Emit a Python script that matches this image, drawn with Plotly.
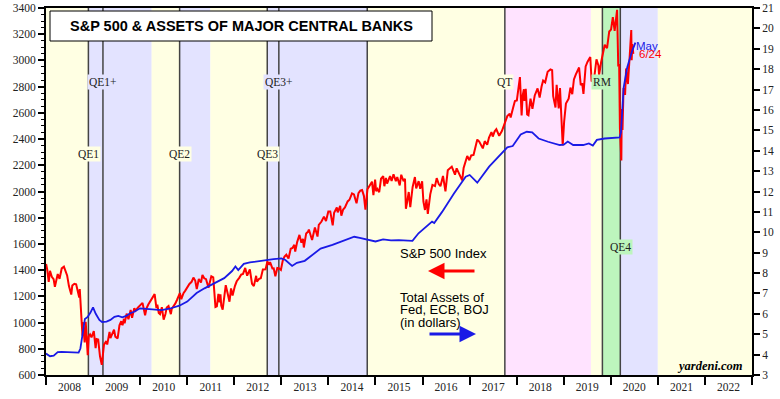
import plotly.graph_objects as go

# ---------------- data ----------------
sp_dates = [
"2008-01-02","2008-01-11","2008-01-22","2008-02-01","2008-02-15","2008-02-29","2008-03-10","2008-03-20",
"2008-04-01","2008-04-15","2008-05-02","2008-05-19","2008-06-02","2008-06-13","2008-06-27","2008-07-15",
"2008-07-23","2008-08-08","2008-08-22","2008-09-05","2008-09-15","2008-09-19","2008-09-29","2008-10-10",
"2008-10-13","2008-10-27","2008-11-04","2008-11-20","2008-11-28","2008-12-08","2008-12-19","2009-01-06",
"2009-01-20","2009-01-28","2009-02-09","2009-02-23","2009-03-09","2009-03-26","2009-04-13","2009-04-20",
"2009-05-08","2009-05-15","2009-06-12","2009-06-22","2009-07-10","2009-07-24","2009-08-07","2009-08-17",
"2009-08-28","2009-09-02","2009-09-18","2009-10-02","2009-10-19","2009-10-30","2009-11-16","2009-11-27",
"2009-12-14","2009-12-28","2010-01-19","2010-02-08","2010-02-19","2010-03-05","2010-03-19","2010-04-05",
"2010-04-23","2010-05-07","2010-05-14","2010-05-25","2010-06-04","2010-06-18","2010-07-02","2010-07-16",
"2010-07-26","2010-08-09","2010-08-27","2010-09-03","2010-09-17","2010-10-01","2010-10-15","2010-11-05",
"2010-11-16","2010-12-03","2010-12-17","2011-01-03","2011-01-18","2011-02-04","2011-02-18","2011-03-04",
"2011-03-16","2011-04-01","2011-04-18","2011-04-29","2011-05-13","2011-05-27","2011-06-15","2011-07-07",
"2011-07-22","2011-08-08","2011-08-19","2011-08-31","2011-09-09","2011-09-16","2011-09-22","2011-10-03",
"2011-10-27","2011-11-09","2011-11-25","2011-12-07","2011-12-19","2012-01-06","2012-01-20","2012-02-10",
"2012-02-24","2012-03-09","2012-03-26","2012-04-10","2012-04-20","2012-05-01","2012-05-18","2012-06-01",
"2012-06-19","2012-06-25","2012-07-12","2012-07-25","2012-08-10","2012-08-31","2012-09-14","2012-09-28",
"2012-10-05","2012-10-23","2012-11-02","2012-11-15","2012-11-30","2012-12-14","2012-12-28","2013-01-11",
"2013-01-25","2013-02-08","2013-02-25","2013-03-14","2013-03-28","2013-04-11","2013-04-18","2013-05-03",
"2013-05-21","2013-06-05","2013-06-17","2013-06-24","2013-07-12","2013-07-26","2013-08-02","2013-08-16",
"2013-08-27","2013-09-18","2013-10-08","2013-10-18","2013-11-08","2013-11-27","2013-12-13","2013-12-31",
"2014-01-15","2014-02-03","2014-02-14","2014-03-07","2014-03-14","2014-04-02","2014-04-11","2014-04-25",
"2014-05-09","2014-05-30","2014-06-13","2014-07-03","2014-07-18","2014-08-07","2014-08-22","2014-09-05",
"2014-09-19","2014-10-03","2014-10-15","2014-10-31","2014-11-14","2014-12-05","2014-12-16","2014-12-29",
"2015-01-06","2015-01-16","2015-01-30","2015-02-13","2015-03-02","2015-03-11","2015-03-23","2015-04-01",
"2015-04-24","2015-05-06","2015-05-21","2015-06-08","2015-06-19","2015-07-08","2015-07-20","2015-08-07",
"2015-08-18","2015-08-25","2015-09-04","2015-09-16","2015-09-28","2015-10-16","2015-11-03","2015-11-13",
"2015-12-02","2015-12-14","2015-12-29","2016-01-08","2016-01-20","2016-02-01","2016-02-11","2016-03-01",
"2016-03-18","2016-04-07","2016-04-20","2016-05-06","2016-05-19","2016-06-08","2016-06-27","2016-07-15",
"2016-08-15","2016-09-09","2016-09-22","2016-10-14","2016-11-04","2016-11-15","2016-12-13","2016-12-30",
"2017-01-13","2017-01-31","2017-02-15","2017-03-01","2017-03-16","2017-04-13","2017-04-28","2017-05-17",
"2017-05-31","2017-06-19","2017-06-29","2017-07-14","2017-07-27","2017-08-10","2017-08-18","2017-09-08",
"2017-09-22","2017-10-06","2017-10-20","2017-11-08","2017-11-15","2017-12-04","2017-12-18","2018-01-02",
"2018-01-12","2018-01-26","2018-02-08","2018-02-16","2018-02-26","2018-03-02","2018-03-12","2018-03-23",
"2018-04-02","2018-04-18","2018-05-03","2018-05-21","2018-06-12","2018-06-28","2018-07-13","2018-07-25",
"2018-08-10","2018-08-29","2018-09-20","2018-10-03","2018-10-11","2018-10-29","2018-11-07","2018-11-23",
"2018-12-03","2018-12-14","2018-12-24","2019-01-04","2019-01-18","2019-02-08","2019-02-22","2019-03-08",
"2019-03-21","2019-04-05","2019-04-30","2019-05-13","2019-05-24","2019-06-03","2019-06-20","2019-07-05",
"2019-07-26","2019-08-05","2019-08-14","2019-08-23","2019-09-12","2019-09-27","2019-10-02","2019-10-18",
"2019-11-01","2019-11-15","2019-12-03","2019-12-20","2020-01-03","2020-01-17","2020-01-31","2020-02-19",
"2020-02-28","2020-03-06","2020-03-12","2020-03-16","2020-03-23","2020-03-26","2020-04-01","2020-04-09",
"2020-04-21","2020-04-29","2020-05-13","2020-05-27","2020-06-08","2020-06-11","2020-06-16","2020-06-24",
]
sp_values = [
1447,1401,1310,1395,1349,1331,1273,1330,
1370,1334,1413,1426,1385,1360,1278,1214,
1282,1296,1292,1242,1192,1255,1106,899,
1003,848,1005,752,896,909,887,935,
805,874,870,743,677,832,858,832,
929,882,946,893,879,979,1010,980,
1029,995,1068,1025,1097,1036,1110,1091,
1114,1127,1150,1056,1109,1138,1160,1187,
1217,1111,1136,1074,1065,1117,1022,1065,
1115,1127,1064,1105,1125,1146,1176,1225,
1178,1224,1244,1272,1295,1311,1343,1321,
1256,1332,1305,1364,1338,1331,1265,1353,
1345,1119,1124,1219,1154,1216,1129,1099,
1285,1229,1159,1261,1206,1278,1315,1343,
1366,1371,1417,1358,1378,1405,1295,1278,
1357,1313,1334,1338,1405,1406,1466,1441,
1461,1413,1414,1353,1416,1413,1402,1472,
1503,1518,1488,1563,1569,1593,1541,1614,
1669,1609,1639,1573,1680,1692,1710,1656,
1630,1725,1656,1745,1771,1808,1775,1848,
1848,1742,1838,1878,1841,1890,1816,1863,
1878,1924,1937,1985,1978,1910,1988,2007,
2011,1967,1862,2018,2039,2075,1972,2091,
2003,2019,1995,2097,2117,2040,2104,2060,
2117,2080,2131,2079,2110,2046,2128,2078,
2097,1868,1921,1996,1881,2033,2110,2023,
2079,2021,2078,1922,1859,1940,1829,1978,
2050,2041,2102,2057,2040,2119,2001,2162,
2190,2128,2177,2133,2085,2180,2271,2239,
2275,2279,2349,2396,2381,2329,2384,2357,
2412,2453,2419,2459,2475,2438,2425,2461,
2502,2549,2575,2594,2565,2639,2690,2695,
2786,2873,2581,2732,2780,2691,2783,2588,
2582,2708,2630,2733,2787,2716,2801,2846,
2833,2914,2931,2926,2728,2641,2814,2633,
2790,2600,2351,2532,2671,2708,2793,2743,
2855,2893,2946,2812,2826,2744,2954,2990,
3026,2844,2840,2847,3009,2962,2887,2986,
3067,3120,3093,3221,3235,3330,3226,3386,
2954,2972,2481,2386,2237,2630,2470,2790,
2737,2939,2820,3036,3232,3002,3125,3050,
]

asset_dates = [
"2008-01-01","2008-02-01","2008-03-01","2008-04-01","2008-05-01","2008-06-01","2008-07-01","2008-08-01",
"2008-09-10","2008-09-24","2008-10-08","2008-10-29","2008-11-19","2008-12-10","2008-12-31","2009-01-21",
"2009-02-18","2009-03-11","2009-04-15","2009-05-15","2009-06-15","2009-07-15","2009-08-15","2009-09-15",
"2009-10-15","2009-11-15","2009-12-31","2010-02-01","2010-03-15","2010-05-01","2010-06-15","2010-08-15",
"2010-11-01","2011-01-01","2011-03-15","2011-05-15","2011-07-01","2011-08-20","2011-10-15","2011-12-15",
"2012-01-10","2012-02-01","2012-03-15","2012-05-01","2012-07-01","2012-09-01","2012-11-01","2013-01-01",
"2013-02-01","2013-03-25","2013-05-01","2013-07-01","2013-09-01","2013-11-01","2014-02-01","2014-05-01",
"2014-07-20","2014-09-01","2014-11-01","2015-01-01","2015-03-01","2015-05-01","2015-07-01","2015-09-01",
"2015-10-15","2015-12-01","2016-01-01","2016-03-15","2016-04-01","2016-06-01","2016-09-01","2016-12-01",
"2017-01-01","2017-03-01","2017-06-01","2017-09-01","2017-10-20","2017-12-01","2018-02-01","2018-03-20",
"2018-05-01","2018-06-20","2018-09-01","2018-12-01","2019-01-01","2019-02-01","2019-03-15","2019-06-01",
"2019-07-15","2019-08-15","2019-09-15","2019-11-15","2020-02-01","2020-03-10","2020-03-20","2020-04-10",
"2020-05-08","2020-06-15","2020-07-10",
]
asset_values = [
4.05,3.92,3.95,4.12,4.13,4.12,4.14,4.12,
4.10,4.30,4.80,5.75,5.85,6.05,6.32,6.00,
5.70,5.60,5.62,5.70,5.85,5.90,5.83,5.90,
6.03,6.10,6.27,6.25,6.22,6.20,6.18,6.25,
6.40,6.60,7.02,7.25,7.40,7.60,7.75,8.10,
8.32,8.15,8.45,8.52,8.58,8.62,8.68,8.72,
8.64,8.35,8.50,8.60,8.90,9.20,9.38,9.60,
9.78,9.72,9.65,9.55,9.65,9.60,9.62,9.60,
9.58,9.95,10.11,10.52,10.45,11.00,11.90,12.73,
12.81,12.43,13.22,13.87,14.17,14.23,14.80,14.93,
14.90,14.60,14.44,14.28,14.30,14.45,14.28,14.28,
14.36,14.25,14.53,14.60,14.62,14.65,14.90,17.10,
18.10,18.90,19.30,
]

# Shaded policy regimes: (start, end, colour)
band_starts = ["2008-01-01","2008-11-25","2010-03-31","2010-11-03","2011-06-30","2012-09-13",
               "2014-10-29","2017-10-01","2019-07-31","2019-10-28","2020-03-15","2020-12-31"]
band_ends   = ["2008-11-25","2010-03-31","2010-11-03","2011-06-30","2012-09-13","2014-10-29",
               "2017-10-01","2019-07-31","2019-10-28","2020-03-15","2020-12-31","2023-01-01"]
band_kinds  = ["Y","L","Y","L","Y","L","Y","P","Y","G","L","Y"]

event_dates = ["2008-11-25","2009-03-18","2010-11-03","2012-09-13","2012-12-12",
               "2014-10-29","2017-10-01","2019-10-28","2020-03-15"]

event_labels = ["QE1","QE1+","QE2","QE3","QE3+","QT","RM","QE4"]
event_label_dates = ["2008-11-25","2009-03-18","2010-11-03","2012-09-13","2012-12-12",
                     "2017-10-01","2019-10-28","2020-03-15"]
event_label_rows = ["low","high","low","low","high","high","high","bottom"]
event_label_bg = ["Y","L","Y","Y","L","Y","G","G"]

# ---------------- styling ----------------
COL = {"Y": "#FFFFE3", "L": "#E3E3FF", "P": "#FFE3FF", "G": "#BDF5BD"}
SERIF = "Liberation Serif, Times New Roman, serif"
SANS = "Liberation Sans, Arial, sans-serif"

L, R, T, B = 46, 28, 8, 24
W, H = 780, 399
PW, PH = W - L - R, H - T - B

def px(x):
    return (x - L) / PW

def py(y):
    return 1 - (y - T) / PH

fig = go.Figure()

fig.add_trace(go.Scatter(x=sp_dates, y=sp_values, mode="lines",
                         line=dict(color="#FF0000", width=2), yaxis="y",
                         name="S&P 500 Index", showlegend=False, hoverinfo="skip"))
fig.add_trace(go.Scatter(x=asset_dates, y=asset_values, mode="lines",
                         line=dict(color="#1A1AE6", width=1.8), yaxis="y2",
                         name="Total Assets", showlegend=False, hoverinfo="skip"))

shapes = []
for s, e, k in zip(band_starts, band_ends, band_kinds):
    shapes.append(dict(type="rect", xref="x", yref="paper", x0=s, x1=e, y0=0, y1=1,
                       fillcolor=COL[k], line=dict(width=0), layer="below"))
for d in event_dates:
    shapes.append(dict(type="line", xref="x", yref="paper", x0=d, x1=d, y0=0, y1=1,
                       line=dict(color="#444444", width=1.5), layer="below"))
# title box
shapes.append(dict(type="rect", xref="paper", yref="paper", x0=px(50), x1=px(432),
                   y0=py(41), y1=py(11), fillcolor="white",
                   line=dict(color="black", width=1), layer="above"))

row_y = {"high": py(82), "low": py(154), "bottom": py(247)}
annotations = []
for lab, d, row, bg in zip(event_labels, event_label_dates, event_label_rows, event_label_bg):
    annotations.append(dict(x=d, xref="x", y=row_y[row], yref="paper", text=lab,
                            showarrow=False, font=dict(family=SERIF, size=11.5, color="#222"),
                            bgcolor=COL[bg], borderpad=1, xanchor="center", yanchor="middle"))

annotations += [
    dict(x=px(241), y=py(26), xref="paper", yref="paper",
         text="<b>S&P 500 & ASSETS OF MAJOR CENTRAL BANKS</b>", showarrow=False,
         font=dict(family=SANS, size=14.5, color="black"), xanchor="center", yanchor="middle"),
    dict(x=px(398), y=py(253), xref="paper", yref="paper", text="S&P 500 Index",
         showarrow=False, font=dict(family=SANS, size=13, color="black"),
         xanchor="left", yanchor="middle"),
    dict(x=px(398), y=py(297), xref="paper", yref="paper", text="Total Assets of",
         showarrow=False, font=dict(family=SANS, size=13, color="black"),
         xanchor="left", yanchor="middle"),
    dict(x=px(398), y=py(309.5), xref="paper", yref="paper", text="Fed, ECB, BOJ",
         showarrow=False, font=dict(family=SANS, size=13, color="black"),
         xanchor="left", yanchor="middle"),
    dict(x=px(398), y=py(322), xref="paper", yref="paper", text="(in dollars)",
         showarrow=False, font=dict(family=SANS, size=13, color="black"),
         xanchor="left", yanchor="middle"),
    # red arrow pointing left
    dict(x=px(428), y=py(271), xref="paper", yref="paper", text="", showarrow=True,
         ax=48, ay=0, axref="pixel", ayref="pixel", arrowhead=2, arrowsize=1.1,
         arrowwidth=3, arrowcolor="#FF0000"),
    # blue arrow pointing right
    dict(x=px(476), y=py(334), xref="paper", yref="paper", text="", showarrow=True,
         ax=-48, ay=0, axref="pixel", ayref="pixel", arrowhead=2, arrowsize=1.1,
         arrowwidth=3, arrowcolor="#1A1AE6"),
    dict(x=px(745), y=py(366), xref="paper", yref="paper", text="<b><i>yardeni.com</i></b>",
         showarrow=False, font=dict(family=SERIF, size=12.5, color="black"),
         xanchor="right", yanchor="middle"),
    dict(x=px(634), y=py(46), xref="paper", yref="paper", text="May",
         showarrow=False, font=dict(family=SANS, size=11.5, color="#1A1AE6"),
         xanchor="left", yanchor="middle"),
    dict(x=px(637), y=py(54), xref="paper", yref="paper", text="6/24",
         showarrow=False, font=dict(family=SANS, size=11.5, color="#FF0000"),
         xanchor="left", yanchor="middle"),
]

fig.update_layout(
    width=W, height=H,
    margin=dict(l=L, r=R, t=T, b=B, pad=0, autoexpand=False),
    paper_bgcolor="white", plot_bgcolor="white",
    shapes=shapes, annotations=annotations, showlegend=False,
    font=dict(family=SERIF, size=11.5, color="#222"),
    xaxis=dict(type="date", range=["2008-01-01", "2023-01-01"], dtick="M12",
               tick0="2008-01-01", ticklabelmode="period", tickformat="%Y",
               ticks="outside", ticklen=8, tickwidth=2, tickcolor="black",
               ticklabelstandoff=-8,
               showline=True, linewidth=2, linecolor="black", mirror=True,
               showgrid=False, zeroline=False, automargin=False,
               tickfont=dict(family=SERIF, size=11.5, color="#222")),
    yaxis=dict(range=[600, 3400], dtick=200, tick0=600, ticks="outside", ticklen=6,
               tickwidth=1.5, tickcolor="black", automargin=False,
               minor=dict(dtick=50, ticks="outside", ticklen=3, tickcolor="black", tickwidth=1),
               showline=True, linewidth=2, linecolor="black", showgrid=False, zeroline=False,
               tickfont=dict(family=SERIF, size=11.5, color="#222")),
    yaxis2=dict(range=[3, 21], dtick=1, tick0=3, overlaying="y", side="right",
                ticks="outside", ticklen=6, tickwidth=1.5, tickcolor="black", automargin=False,
                showline=True, linewidth=2, linecolor="black", showgrid=False, zeroline=False,
                tickfont=dict(family=SERIF, size=11.5, color="#222")),
)

fig.write_html("out.html", config={"displayModeBar": False},
               post_script="document.body.style.margin='0';document.body.style.overflow='hidden';")
